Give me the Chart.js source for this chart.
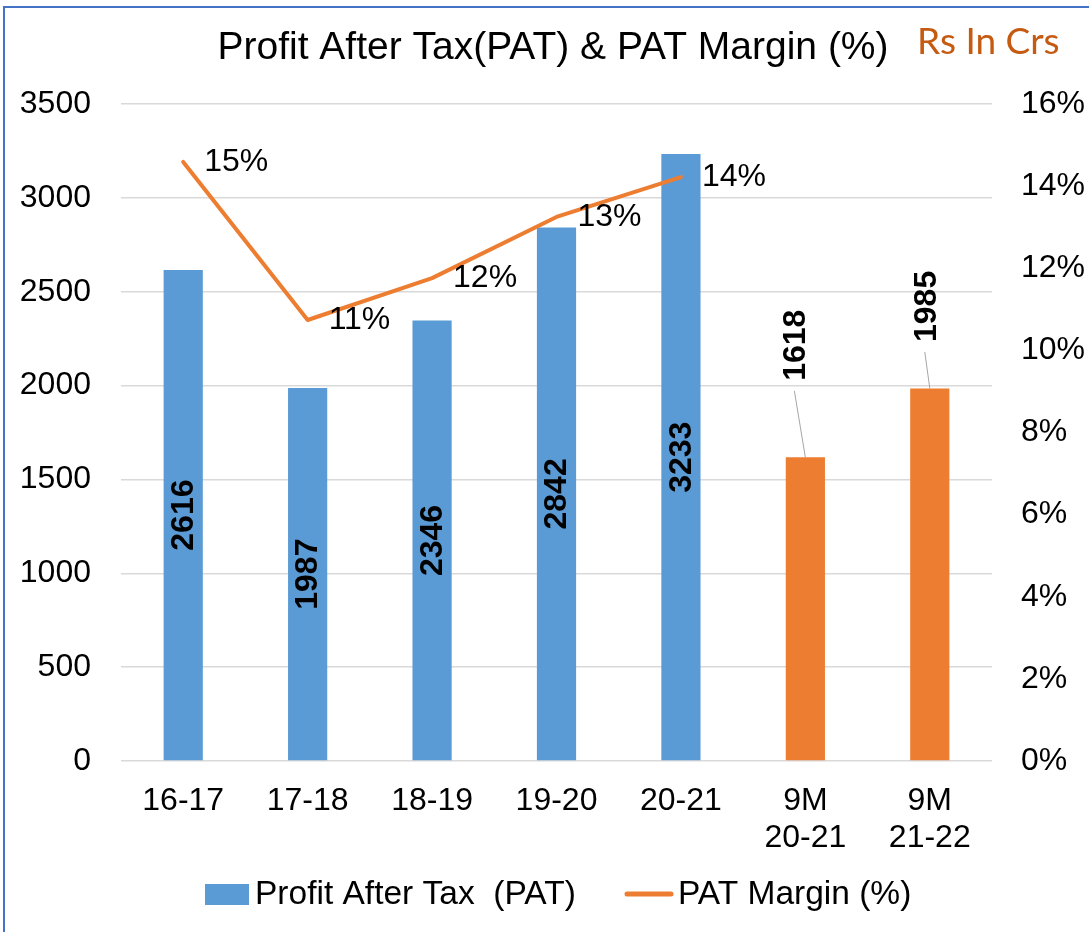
<!DOCTYPE html>
<html><head><meta charset="utf-8">
<script src="https://cdn.jsdelivr.net/npm/chart.js@4.4.1/dist/chart.umd.min.js"></script>
<style>html,body{margin:0;padding:0;background:#fff}#wrap{width:1089px;height:932px;position:relative}</style>
</head><body><div id="wrap"><canvas id="c" width="1089" height="932"></canvas></div>
<script>
// ---- data ----
const categories = [['16-17'], ['17-18'], ['18-19'], ['19-20'], ['20-21'], ['9M', '20-21'], ['9M', '21-22']];
const patValues = [2616, 1987, 2346, 2842, 3233, 1618, 1985];
const patMarginValues = [14.59, 10.74, 11.76, 13.25, 14.22, null, null];
const leftTickValues = [0, 500, 1000, 1500, 2000, 2500, 3000, 3500];
const rightTickValues = [0, 2, 4, 6, 8, 10, 12, 14, 16];
const seriesNames = ['Profit After Tax  (PAT)', 'PAT Margin (%)'];
const titleText = 'Profit After Tax(PAT) & PAT Margin (%)';
const unitText = 'Rs In Crs';

// ---- styles ----
const FONT = "'Liberation Sans', Arial, sans-serif";
const BLUE = '#5B9BD5', ORANGE = '#ED7D31';
const barColors = [BLUE, BLUE, BLUE, BLUE, BLUE, ORANGE, ORANGE];
const callouts = [null, null, null, null, null, {dx: -10, dy: -112}, {dx: -4, dy: -82}];

const overlay = {
  id: 'overlay',
  afterDatasetsDraw(chart) {
    const ctx = chart.ctx;
    const barMeta = chart.getDatasetMeta(0);
    const lineMeta = chart.getDatasetMeta(1);
    ctx.save();
    ctx.fillStyle = '#000';
    ctx.font = 'bold 32px ' + FONT;
    barMeta.data.forEach((el, i) => {
      const txt = String(patValues[i]);
      const co = callouts[i];
      const w = ctx.measureText(txt).width;
      let cx, cy;
      if (!co) { cx = el.x; cy = (el.y + el.base) / 2; }
      else {
        cx = el.x + co.dx; cy = el.y + co.dy;
        ctx.beginPath(); ctx.strokeStyle = '#A6A6A6'; ctx.lineWidth = 1;
        ctx.moveTo(cx - 1, cy + w / 2 + 10); ctx.lineTo(el.x, el.y); ctx.stroke();
      }
      ctx.save(); ctx.translate(cx, cy); ctx.rotate(-Math.PI / 2);
      ctx.textAlign = 'center'; ctx.textBaseline = 'middle';
      ctx.fillText(txt, 0, 1); ctx.restore();
    });
    ctx.font = '32px ' + FONT; ctx.textAlign = 'left'; ctx.textBaseline = 'middle';
    lineMeta.data.forEach((pt, i) => {
      const v = patMarginValues[i];
      if (v == null) return;
      ctx.fillText(Math.round(v) + '%', pt.x + 21, pt.y);
    });
    ctx.restore();
  },
  afterDraw(chart) {
    const ctx = chart.ctx;
    ctx.save();
    // title
    ctx.fillStyle = '#000'; ctx.font = '39px ' + FONT;
    ctx.textAlign = 'center'; ctx.textBaseline = 'alphabetic';
    ctx.fillText(titleText, 553, 59);
    // unit
    ctx.fillStyle = '#C55A11'; ctx.font = "37px Lato, 'Open Sans', sans-serif";
    ctx.textAlign = 'left';
    ctx.fillText(unitText, 917, 54);
    // legend
    const ds = chart.data.datasets;
    ctx.font = '33.5px ' + FONT; ctx.textBaseline = 'middle';
    ctx.fillStyle = BLUE; ctx.fillRect(205, 884, 44, 21);
    ctx.fillStyle = '#000'; ctx.fillText(ds[0].label, 255, 895);
    ctx.strokeStyle = ds[1].borderColor; ctx.lineWidth = 5; ctx.lineCap = 'round';
    ctx.beginPath(); ctx.moveTo(627, 894); ctx.lineTo(671, 894); ctx.stroke();
    ctx.fillText(ds[1].label, 678, 895);
    // frame
    ctx.strokeStyle = '#4472C4'; ctx.lineWidth = 2; ctx.lineCap = 'butt';
    ctx.strokeRect(4, 7, 1200, 1000);
    ctx.restore();
  }
};

new Chart(document.getElementById('c'), {
  data: {
    labels: categories,
    datasets: [
      { type: 'bar', label: seriesNames[0], data: patValues, backgroundColor: barColors,
        yAxisID: 'y', order: 1, categoryPercentage: 1, barPercentage: 0.315 },
      { type: 'line', label: seriesNames[1], data: patMarginValues, borderColor: ORANGE,
        backgroundColor: ORANGE, borderWidth: 4, pointRadius: 0, tension: 0, yAxisID: 'y1',
        order: 0, spanGaps: false, borderCapStyle: 'round', borderJoinStyle: 'round' }
    ]
  },
  options: {
    responsive: false, animation: false,
    layout: { padding: { top: 104, bottom: 71, left: 0, right: 0 } },
    plugins: { legend: { display: false }, tooltip: { enabled: false }, title: { display: false } },
    scales: {
      x: {
        grid: { display: false, drawTicks: false }, border: { display: false },
        ticks: { color: '#000', font: { family: FONT, size: 32, lineHeight: 1.15 }, padding: 22, maxRotation: 0, autoSkip: false },
        afterFit(s) { s.height = 100; }
      },
      y: {
        position: 'left', min: leftTickValues[0], max: leftTickValues[leftTickValues.length - 1],
        grid: { color: '#D9D9D9', lineWidth: 1.5, drawTicks: false }, border: { display: false },
        ticks: { stepSize: leftTickValues[1] - leftTickValues[0], color: '#000', font: { family: FONT, size: 32 }, padding: 30, callback: v => String(v) },
        afterFit(s) { s.width = 121; }
      },
      y1: {
        position: 'right', min: rightTickValues[0], max: rightTickValues[rightTickValues.length - 1],
        grid: { drawOnChartArea: false, drawTicks: false }, border: { display: false },
        ticks: { stepSize: rightTickValues[1] - rightTickValues[0], color: '#000', font: { family: FONT, size: 32 }, padding: 29, callback: v => v + '%' },
        afterFit(s) { s.width = 97; }
      }
    }
  },
  plugins: [overlay]
});
</script></body></html>
